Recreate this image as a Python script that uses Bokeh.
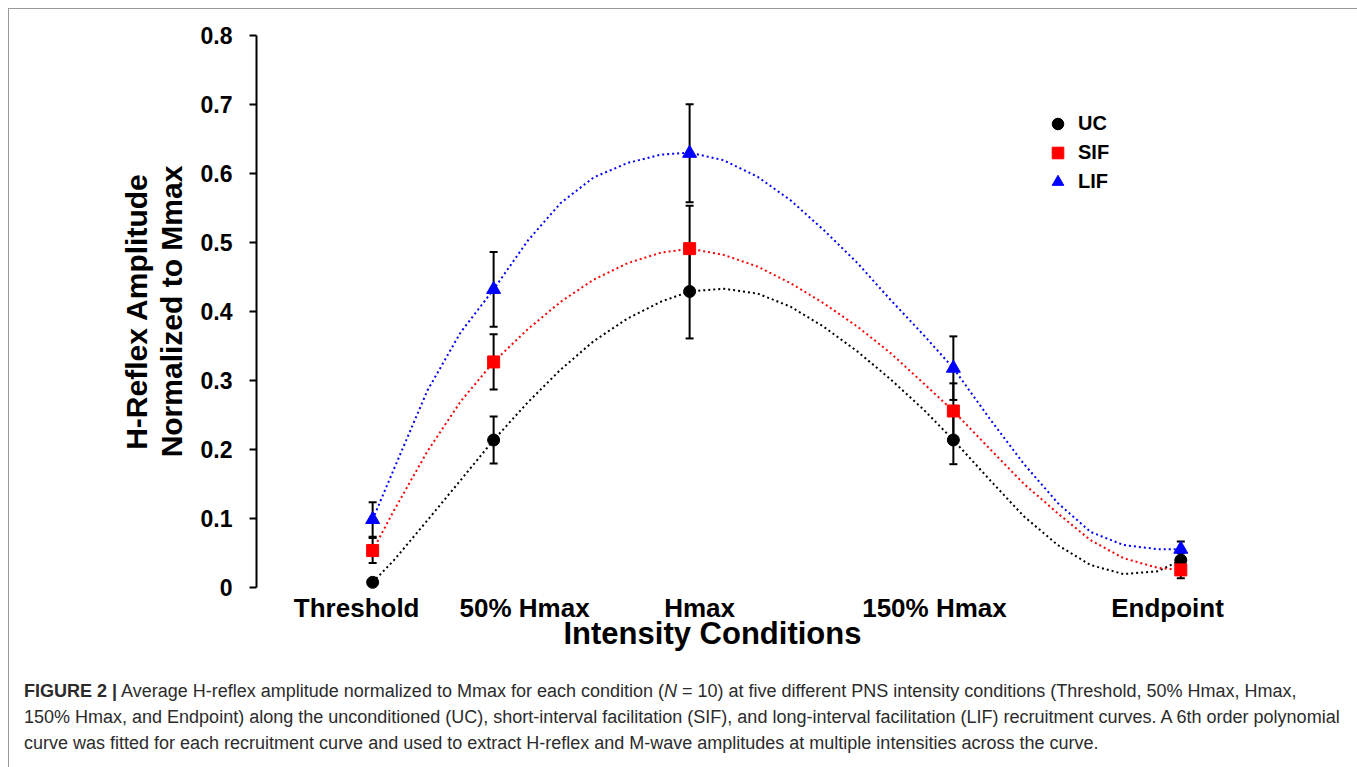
from bokeh.plotting import figure
from bokeh.models import Range1d, FixedTicker, Legend, LegendItem, Title, Div
from bokeh.layouts import column
from bokeh.embed import file_html
from bokeh.resources import INLINE

# ---------------- data ----------------
conditions = ["Threshold", "50% Hmax", "Hmax", "150% Hmax", "Endpoint"]
cond_x = [1.00, 1.50, 2.31, 3.40, 4.34]          # intensity position of each condition
label_x = [0.934, 1.628, 2.351, 3.322, 4.285]    # where the condition names sit

uc_mean = [0.008, 0.214, 0.429, 0.214, 0.040]
uc_err = [0.004, 0.034, 0.068, 0.035, 0.010]
sif_mean = [0.054, 0.327, 0.491, 0.256, 0.026]
sif_err = [0.018, 0.040, 0.062, 0.040, 0.012]
lif_mean = [0.099, 0.432, 0.629, 0.318, 0.056]
lif_err = [0.025, 0.054, 0.071, 0.046, 0.011]

# fitted recruitment curves
curve_x = [1.000, 1.088, 1.227, 1.364, 1.500, 1.640, 1.777, 1.913, 2.054, 2.190,
           2.310, 2.450, 2.591, 2.727, 2.864, 3.004, 3.140, 3.277, 3.400, 3.554,
           3.690, 3.831, 3.967, 4.103, 4.244, 4.340]
uc_curve = [0.008, 0.040, 0.098, 0.156, 0.214, 0.268, 0.316, 0.357, 0.390, 0.414,
            0.429, 0.433, 0.426, 0.407, 0.378, 0.342, 0.302, 0.258, 0.214, 0.155,
            0.104, 0.062, 0.033, 0.020, 0.024, 0.040]
sif_curve = [0.054, 0.112, 0.198, 0.270, 0.327, 0.374, 0.414, 0.446, 0.470, 0.485,
             0.491, 0.482, 0.465, 0.441, 0.412, 0.378, 0.340, 0.296, 0.256, 0.200,
             0.151, 0.108, 0.069, 0.043, 0.029, 0.026]
lif_curve = [0.099, 0.172, 0.286, 0.370, 0.432, 0.502, 0.557, 0.594, 0.615, 0.627,
             0.630, 0.619, 0.595, 0.561, 0.518, 0.470, 0.417, 0.366, 0.318, 0.243,
             0.180, 0.123, 0.081, 0.062, 0.056, 0.056]

y_ticks = [0, 0.1, 0.2, 0.3, 0.4, 0.5, 0.6, 0.7, 0.8]
y_tick_labels = ["0", "0.1", "0.2", "0.3", "0.4", "0.5", "0.6", "0.7", "0.8"]

series_names = ["UC", "SIF", "LIF"]
series_colors = ["#000000", "#ff0000", "#0000ff"]

caption_html = (
    "<b>FIGURE 2 |</b> Average H-reflex amplitude normalized to Mmax for each condition "
    "(<i>N</i> = 10) at five different PNS intensity conditions (Threshold, 50% Hmax, Hmax,<br>"
    "150% Hmax, and Endpoint) along the unconditioned (UC), short-interval facilitation (SIF), "
    "and long-interval facilitation (LIF) recruitment curves. A 6th order polynomial<br>"
    "curve was fitted for each recruitment curve and used to extract H-reflex and M-wave "
    "amplitudes at multiple intensities across the curve."
)

FONT = "Liberation Sans"

# ---------------- figure ----------------
p = figure(width=1341, height=664, output_backend="svg", toolbar_location=None,
           x_range=Range1d(0.52, 5.0), y_range=Range1d(-0.0125, 0.8125),
           min_border_left=247, min_border_right=10, min_border_top=17, min_border_bottom=77)
p.outline_line_color = None
p.grid.visible = False
p.background_fill_color = "white"
p.border_fill_color = "white"

# y axis
ya = p.yaxis[0]
ya.ticker = FixedTicker(ticks=y_ticks)
ya.major_label_overrides = dict(zip(y_ticks, y_tick_labels))
ya.bounds = (0, 0.8)
ya.axis_line_width = 2
ya.major_tick_line_width = 2
ya.major_tick_out = 7
ya.major_tick_in = 0
ya.minor_tick_line_color = None
ya.major_label_standoff = 17
ya.major_label_text_font = FONT
ya.major_label_text_font_style = "bold"
ya.major_label_text_font_size = "23px"
ya.major_label_text_color = "black"
ya.axis_label = "H-Reflex Amplitude\nNormalized to Mmax"
ya.axis_label_text_font = FONT
ya.axis_label_text_font_style = "bold"
ya.axis_label_text_font_size = "30px"
ya.axis_label_text_line_height = 1.05
ya.axis_label_text_color = "black"
ya.axis_label_standoff = 10

# x axis
xa = p.xaxis[0]
xa.ticker = FixedTicker(ticks=label_x)
xa.major_label_overrides = dict(zip(label_x, conditions))
xa.axis_line_color = None
xa.major_tick_line_color = None
xa.minor_tick_line_color = None
xa.major_tick_out = 0
xa.major_tick_in = 0
xa.major_label_standoff = -4
xa.major_label_text_font = FONT
xa.major_label_text_font_style = "bold"
xa.major_label_text_font_size = "26px"
xa.major_label_text_color = "black"

p.add_layout(Title(text="Intensity Conditions", align="left", offset=307, standoff=-24,
                   text_font=FONT, text_font_style="bold", text_font_size="31px",
                   text_color="black"), "below")

means = [uc_mean, sif_mean, lif_mean]
errs = [uc_err, sif_err, lif_err]
curves = [uc_curve, sif_curve, lif_curve]

# dotted fitted curves
for c, col in zip(curves, series_colors):
    p.line(curve_x, c, line_color=col, line_width=2, line_dash="2 3")

# error bars
for m, e in zip(means, errs):
    lo = [a - b for a, b in zip(m, e)]
    hi = [a + b for a, b in zip(m, e)]
    p.segment(x0=cond_x, y0=lo, x1=cond_x, y1=hi, line_color="black", line_width=2)
    p.scatter(cond_x, hi, marker="dash", size=8, line_color="black", line_width=2)
    p.scatter(cond_x, lo, marker="dash", size=8, line_color="black", line_width=2)

# markers (LIF first so UC and SIF sit on top, as in the source)
r_lif = p.scatter(cond_x, lif_mean, marker="triangle", size=14,
                  fill_color=series_colors[2], line_color=series_colors[2])
r_uc = p.scatter(cond_x, uc_mean, marker="circle", size=12,
                 fill_color=series_colors[0], line_color=series_colors[0])
r_sif = p.scatter(cond_x, sif_mean, marker="square", size=12,
                  fill_color=series_colors[1], line_color=series_colors[1])

legend = Legend(items=[LegendItem(label=series_names[0], renderers=[r_uc]),
                       LegendItem(label=series_names[1], renderers=[r_sif]),
                       LegendItem(label=series_names[2], renderers=[r_lif])],
                location=(787, 400), padding=0, margin=0, spacing=0,
                glyph_width=29, glyph_height=29, label_height=29, label_standoff=6,
                label_text_font=FONT, label_text_font_style="bold",
                label_text_font_size="20px", label_text_color="black",
                border_line_color=None, background_fill_alpha=0)
p.add_layout(legend)

div = Div(text=(
    "<div style=\"font-family:'Liberation Sans',Arial,sans-serif;font-size:18px;"
    "line-height:26px;color:#2b2b2b;padding:0 0 0 10px;white-space:nowrap\">"
    + caption_html + "</div>"), width=1341, height=92)

layout = column(p, div, styles={"border": "1px solid #999999", "margin": "8px"})

open("out.html", "w").write(file_html(layout, INLINE))
